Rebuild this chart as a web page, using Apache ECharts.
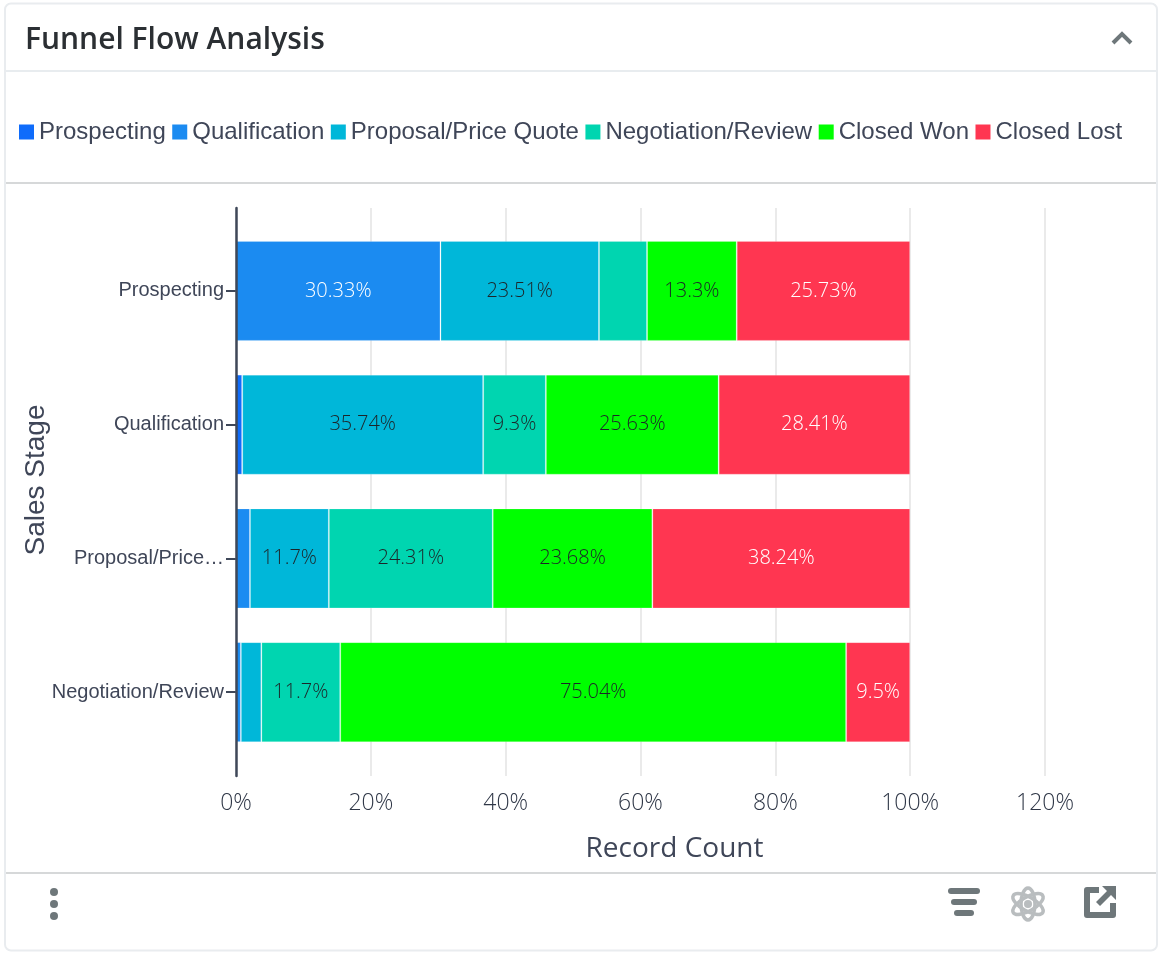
<!DOCTYPE html>
<html>
<head>
<meta charset="utf-8">
<title>Funnel Flow Analysis</title>
<script src="https://cdn.jsdelivr.net/npm/echarts@6/dist/echarts.min.js"></script>
<style>
  html, body { margin: 0; padding: 0; background: #fff; }
  #chart { width: 1160px; height: 954px; }
</style>
</head>
<body>
<div id="chart"></div>
<script>
// Share of each sales stage's records by the stage they flowed into (percent).
const stages = ['Prospecting', 'Qualification', 'Proposal/Price…', 'Negotiation/Review'];
const prospecting = [0, 0.92, 0, 0];
const qualification = [30.33, 0, 2.07, 0.72];
const proposal = [23.51, 35.74, 11.7, 3.04];
const negotiation = [7.13, 9.3, 24.31, 11.7];
const closedWon = [13.3, 25.63, 23.68, 75.04];
const closedLost = [25.73, 28.41, 38.24, 9.5];
const percentTicks = { min: 0, max: 120, interval: 20 };

const seriesNames = ['Prospecting', 'Qualification', 'Proposal/Price Quote', 'Negotiation/Review', 'Closed Won', 'Closed Lost'];
const seriesValues = [prospecting, qualification, proposal, negotiation, closedWon, closedLost];
const seriesColors = ['#0f6cfb', '#1b8bf1', '#00b7d9', '#00d5b0', '#00ff00', '#ff3651'];
const labelColors = ['#ffffff', '#ffffff', '#1c2529', '#1c2529', '#1c2529', '#ffffff'];

const inkAxis = '#3f4859';
const inkText = '#3f4658';
const inkTicks = '#2f3747';
const sans = '"Liberation Sans", Arial, sans-serif';
const open = '"Open Sans", sans-serif';

// Thin rules that split the card into header, legend, plot and footer.
function rule(y, color) {
  return { type: 'rect', silent: true, shape: { x: 6, y: y, width: 1150, height: 2 }, style: { fill: color } };
}
const iconGrey = '#6e777a';
const cardParts = [
  { type: 'rect', silent: true, z: -10,
    shape: { x: 5, y: 3.5, width: 1152, height: 947, r: 6 },
    style: { fill: '#ffffff', stroke: '#e9ecef', lineWidth: 2 } },
  rule(70, '#e8ecef'), rule(182, '#d6d8d9'), rule(872, '#d6d8d9'),
  // collapse chevron
  { type: 'polyline', silent: true,
    shape: { points: [[1113, 43], [1122, 34], [1131, 43]] },
    style: { stroke: iconGrey, lineWidth: 4, fill: null } },
  // overflow menu dots
  { type: 'circle', silent: true, shape: { cx: 54, cy: 892, r: 4 }, style: { fill: iconGrey } },
  { type: 'circle', silent: true, shape: { cx: 54, cy: 904, r: 4 }, style: { fill: iconGrey } },
  { type: 'circle', silent: true, shape: { cx: 54, cy: 916, r: 4 }, style: { fill: iconGrey } },
  // filter icon
  { type: 'rect', silent: true, shape: { x: 948, y: 888, width: 32, height: 6, r: 3 }, style: { fill: iconGrey } },
  { type: 'rect', silent: true, shape: { x: 951, y: 899, width: 26, height: 6, r: 3 }, style: { fill: iconGrey } },
  { type: 'rect', silent: true, shape: { x: 954, y: 910, width: 20, height: 6, r: 3 }, style: { fill: iconGrey } },
  // atom icon
  { type: 'ellipse', silent: true, x: 1028, y: 904, rotation: 0,
    shape: { cx: 0, cy: 0, rx: 7, ry: 16 }, style: { fill: null, stroke: '#b9bdbf', lineWidth: 3.5 } },
  { type: 'ellipse', silent: true, x: 1028, y: 904, rotation: Math.PI / 3,
    shape: { cx: 0, cy: 0, rx: 7, ry: 17 }, style: { fill: null, stroke: '#b9bdbf', lineWidth: 3.5 } },
  { type: 'ellipse', silent: true, x: 1028, y: 904, rotation: -Math.PI / 3,
    shape: { cx: 0, cy: 0, rx: 7, ry: 17 }, style: { fill: null, stroke: '#b9bdbf', lineWidth: 3.5 } },
  { type: 'circle', silent: true, shape: { cx: 1028, cy: 904, r: 4 }, style: { fill: '#b9bdbf' } },
  // open-in-new icon: open box plus arrow
  { type: 'polyline', silent: true,
    shape: { points: [[1099, 890], [1087, 890], [1087, 915], [1113, 915], [1113, 903]] },
    style: { stroke: iconGrey, lineWidth: 6, fill: null, lineJoin: 'round' } },
  { type: 'polygon', silent: true,
    shape: { points: [[1102, 886], [1116, 886], [1116, 900], [1111, 895], [1100, 906], [1096, 902], [1107, 891]] },
    style: { fill: iconGrey } }
];

const chart = echarts.init(document.getElementById('chart'), null, { renderer: 'canvas' });
chart.setOption({
  animation: false,
  backgroundColor: '#ffffff',
  title: {
    text: 'Funnel Flow Analysis', left: 25, top: 25, padding: 0,
    textStyle: { fontFamily: open, fontSize: 30, fontWeight: 600, color: '#2b2f33' }
  },
  legend: {
    data: seriesNames, left: 19, top: 120, padding: 0,
    icon: 'rect', itemWidth: 15, itemHeight: 15, itemGap: 6.5,
    itemStyle: { borderWidth: 0 },
    textStyle: { fontFamily: sans, fontSize: 24, color: inkText, padding: [0, 0, 0, 0] }
  },
  // The first grid carries the value scale and the long axis line; the second,
  // slightly shorter, holds the bars and their category labels.
  grid: [
    { left: 236, right: 115, top: 208, bottom: 178, outerBoundsMode: 'none' },
    { left: 236, right: 115, top: 224, bottom: 195, outerBoundsMode: 'none' }
  ],
  xAxis: [
    {
      gridIndex: 0, type: 'value', min: percentTicks.min, max: percentTicks.max, interval: percentTicks.interval,
      name: 'Record Count', nameLocation: 'middle', nameGap: 59,
      nameTextStyle: { fontFamily: open, fontSize: 28, color: inkText, padding: [0, 0, 0, 68] },
      axisLine: { show: false }, axisTick: { show: false },
      axisLabel: { fontFamily: open, fontSize: 23, fontWeight: 300, color: inkTicks, margin: 16, formatter: '{value}%' },
      splitLine: { show: true, lineStyle: { color: '#eaeaea', width: 2 } }
    },
    { gridIndex: 1, type: 'value', min: percentTicks.min, max: percentTicks.max, interval: percentTicks.interval, show: false }
  ],
  yAxis: [
    {
      gridIndex: 0, type: 'category', data: [''], z: 10,
      name: 'Sales Stage', nameLocation: 'middle', nameGap: 186,
      nameTextStyle: { fontFamily: sans, fontSize: 28, color: inkText, padding: [0, 0, 0, 24] },
      axisLine: { show: true, lineStyle: { color: inkAxis, width: 2.5 } },
      axisTick: { show: false }, axisLabel: { show: false }
    },
    {
      gridIndex: 1, type: 'category', data: stages, inverse: true,
      axisLine: { show: false },
      axisTick: { show: true, length: 10, alignWithLabel: true, lineStyle: { color: inkAxis, width: 2 } },
      axisLabel: { fontFamily: sans, fontSize: 20, color: inkText, margin: 12 }
    }
  ],
  series: seriesNames.map((name, i) => ({
    name: name,
    type: 'bar',
    stack: 'flow',
    xAxisIndex: 1,
    yAxisIndex: 1,
    barWidth: 100,
    data: seriesValues[i],
    itemStyle: { color: seriesColors[i], borderColor: 'rgba(255,255,255,0.2)', borderWidth: 1 },
    label: {
      show: true, position: 'inside',
      fontFamily: open, fontSize: 20, fontWeight: 300, color: labelColors[i], textBorderWidth: 0,
      formatter: p => (p.value >= 9 ? p.value + '%' : '')
    }
  })),
  graphic: { elements: cardParts }
});
</script>
</body>
</html>
